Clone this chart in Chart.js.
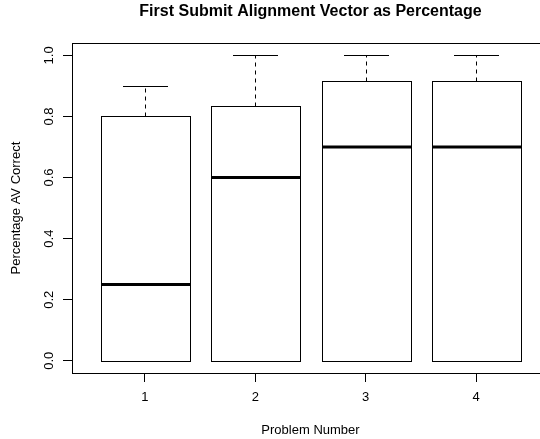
<!DOCTYPE html>
<html>
<head>
<meta charset="utf-8">
<script src="https://cdn.jsdelivr.net/npm/chart.js@4"></script>
<style>
  html, body { margin: 0; padding: 0; background: #fff; overflow: hidden; }
  #wrap { position: absolute; left: 0; top: 0; width: 560px; height: 439px; }
</style>
</head>
<body>
<div id="wrap"><canvas id="c" width="560" height="439"></canvas></div>
<script>
const problems = [1, 2, 3, 4];
const lowerWhisker = [0, 0, 0, 0];
const q1 = [0, 0, 0, 0];
const medians = [0.25, 0.6, 0.7, 0.7];
const q3 = [0.8, 0.8333, 0.9167, 0.9167];
const upperWhisker = [0.9, 1.0, 1.0, 1.0];
const yTicks = [0, 0.2, 0.4, 0.6, 0.8, 1.0];

const FONT = 'Liberation Sans, Arial, sans-serif';
const px = v => Math.round(v) + 0.5;

const boxPlugin = {
  id: 'boxParts',
  afterDatasetsDraw(chart) {
    const ctx = chart.ctx;
    const xs = chart.scales.x, ys = chart.scales.y;
    const meta = chart.getDatasetMeta(0);
    ctx.save();
    ctx.strokeStyle = '#000';
    problems.forEach((p, i) => {
      const cx = px(xs.getPixelForValue(p));
      const half = meta.data[i].width / 2;
      const yMed = ys.getPixelForValue(medians[i]);
      const yQ1 = px(ys.getPixelForValue(q1[i]));
      const yQ3 = px(ys.getPixelForValue(q3[i]));
      const yLo = px(ys.getPixelForValue(lowerWhisker[i]));
      const yHi = px(ys.getPixelForValue(upperWhisker[i]));
      ctx.lineWidth = 1;
      // whiskers (dashed)
      ctx.setLineDash([4, 4]);
      ctx.beginPath();
      ctx.moveTo(cx, yQ3);
      ctx.lineTo(cx, yHi);
      ctx.moveTo(cx, yQ1);
      ctx.lineTo(cx, yLo);
      ctx.stroke();
      ctx.setLineDash([]);
      // caps
      ctx.beginPath();
      ctx.moveTo(Math.round(cx - half / 2), yHi);
      ctx.lineTo(Math.round(cx + half / 2), yHi);
      ctx.moveTo(Math.round(cx - half / 2), yLo);
      ctx.lineTo(Math.round(cx + half / 2), yLo);
      ctx.stroke();
      // box outline
      const bl = px(cx - half), br = px(cx + half);
      ctx.strokeRect(bl, yQ3, br - bl, yQ1 - yQ3);
      // median
      ctx.lineWidth = 3;
      ctx.beginPath();
      ctx.moveTo(bl, yMed);
      ctx.lineTo(br, yMed);
      ctx.stroke();
    });
    // plot frame
    const a = chart.chartArea;
    ctx.lineWidth = 1;
    ctx.strokeRect(px(a.left), px(a.top), Math.round(a.right - a.left), Math.round(a.bottom - a.top));
    ctx.restore();
  }
};

new Chart(document.getElementById('c'), {
  type: 'bar',
  data: {
    datasets: [{
      data: problems.map((p, i) => ({ x: p, y: [q1[i], q3[i]] })),
      backgroundColor: '#ffffff',
      borderWidth: 0,
      categoryPercentage: 0.8,
      barPercentage: 1.0
    }]
  },
  options: {
    responsive: false,
    animation: false,
    events: [],
    layout: { padding: { left: 0, right: 11, top: 0, bottom: 0 } },
    plugins: {
      legend: { display: false },
      tooltip: { enabled: false },
      title: {
        display: true,
        text: 'First Submit Alignment Vector as Percentage',
        fullSize: false,
        color: '#000',
        font: { family: FONT, size: 16, weight: 'bold', lineHeight: 1.2 },
        padding: { top: 2, bottom: 22 }
      }
    },
    scales: {
      x: {
        type: 'linear',
        min: 0.34, max: 4.66,
        offset: false,
        afterBuildTicks(s) { s.ticks = problems.map(v => ({ value: v })); },
        afterFit(s) { s.height = 66; },
        ticks: {
          color: '#000', padding: 8,
          font: { family: FONT, size: 13 },
          callback: v => String(v)
        },
        grid: { display: true, offset: false, drawOnChartArea: false, drawTicks: true, tickLength: 9, tickColor: '#000' },
        border: { display: false },
        title: {
          display: true, text: 'Problem Number', color: '#000',
          font: { family: FONT, size: 13 }, padding: { top: 0, bottom: 1 }
        }
      },
      y: {
        type: 'linear',
        min: -0.04, max: 1.04,
        afterBuildTicks(s) { s.ticks = yTicks.map(v => ({ value: v })); },
        afterFit(s) { s.width = 72; },
        ticks: {
          color: '#000', padding: 5, minRotation: 90, maxRotation: 90,
          crossAlign: 'center',
          font: { family: FONT, size: 13 },
          callback: v => v.toFixed(1)
        },
        grid: { display: true, drawOnChartArea: false, drawTicks: true, tickLength: 9, tickColor: '#000' },
        border: { display: false },
        title: {
          display: true, text: 'Percentage AV Correct', color: '#000',
          font: { family: FONT, size: 13 }, padding: { top: 9, bottom: 0 }
        }
      }
    }
  },
  plugins: [boxPlugin]
});
</script>
</body>
</html>
